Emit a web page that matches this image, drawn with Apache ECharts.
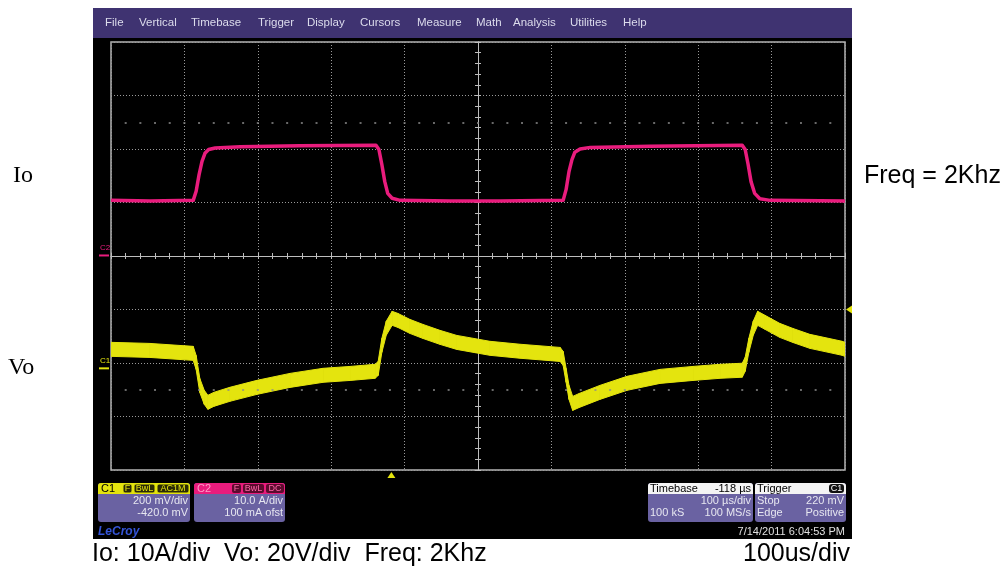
<!DOCTYPE html>
<html>
<head>
<meta charset="utf-8">
<script src="https://cdn.jsdelivr.net/npm/echarts@6/dist/echarts.min.js"></script>
<style>
html, body { margin: 0; padding: 0; background: #fff; }
#main { width: 1007px; height: 575px; }
</style>
</head>
<body>
<div id="main"></div>
<script>
// C2 trace: load current Io in A, time in us relative to the screen centre
var ioTime = [-500, -447, -388, -384, -380, -376, -372, -367, -358, -324, -243, -139, -135, -131, -127, -123, -117, -106, -38, 30,
              116, 120, 124, 128, 132, 139, 153, 234, 360, 364, 368, 372, 377, 384, 398, 500];
var ioAmps = [10.3, 10.2, 10.3, 12.0, 15.1, 17.6, 19.1, 19.8, 20.1, 20.3, 20.5, 20.6, 19.8, 17.0, 13.8, 11.6, 10.7, 10.3, 10.2, 10.2,
              10.3, 12.3, 15.7, 17.9, 19.3, 19.9, 20.2, 20.4, 20.6, 19.8, 17.0, 13.8, 11.6, 10.6, 10.3, 10.2];

// C1 trace: output voltage Vo as seen by the scope, in mV (200 mV/div), centre of the noise band
var voTime = [-500, -447, -388, -384, -379, -373, -368, -360, -338, -301, -256, -211, -174, -140, -136, -131, -125, -117, -109, -93,
              -75, -52, -29, 16, 57, 112, 116, 120, 124, 129, 138, 166, 203, 248, 293, 330, 360, 364, 369, 375,
              381, 391, 411, 429, 452, 496, 500];
var voMv = [71, 67, 56, 22, -64, -108, -127, -116, -97, -71, -45, -26, -19, -11, 0, 86, 150, 187, 179, 157,
            138, 116, 97, 75, 64, 52, 37, -26, -90, -131, -120, -90, -56, -30, -19, -11, -7, 15, 86, 150,
            187, 172, 142, 123, 101, 75, 71];

var menuItems = ['File', 'Vertical', 'Timebase', 'Trigger', 'Display', 'Cursors', 'Measure', 'Math', 'Analysis', 'Utilities', 'Help'];

// scope settings
var c1Scale = 200, c1Offset = -420;   // mV/div, mV
var c2Scale = 10, c2Offset = 0.1;     // A/div, A
var triggerTime = -118;               // us
var triggerLevel = 220;               // mV

var ioData = ioTime.map(function (t, i) { return [t, ioAmps[i]]; });
var voData = voTime.map(function (t, i) { return [t, voMv[i]]; });

var PINK = '#e91c7d';
var YELLOW = '#e4e40e';
var PANEL = '#6a62a2';
var TXT = '#e6e6f0';
var sFont = '11px "Liberation Sans", Arial, sans-serif';
var tagFont = '9px "Liberation Sans", Arial, sans-serif';
var bigFont = '25px "Liberation Sans", Arial, sans-serif';
var serifFont = '24px "Liberation Serif", "Times New Roman", serif';
var noiseHalf = 7; // px, half height of the noise band on C1

var myChart = echarts.init(document.getElementById('main'));

function txt(x, y, s, extra) {
    var st = { text: s, fill: TXT, font: sFont, verticalAlign: 'middle', textAlign: 'left' };
    for (var k in extra) st[k] = extra[k];
    return { type: 'text', x: x, y: y, z: 10, style: st, silent: true };
}
function box(x, y, w, h, fill, r, stroke) {
    return { type: 'rect', z: 9, shape: { x: x, y: y, width: w, height: h, r: r || 0 },
             style: { fill: fill, stroke: stroke || null, lineWidth: stroke ? 1 : 0 }, silent: true };
}

var menuX = [105, 139, 191, 258, 307, 360, 417, 476, 513, 570, 623];
var graphics = [
    { type: 'rect', z: -20, shape: { x: 93, y: 8, width: 759, height: 531 }, style: { fill: '#000' }, silent: true },
    { type: 'rect', z: -19, shape: { x: 93, y: 8, width: 759, height: 30 }, style: { fill: '#3f3371' }, silent: true }
];
menuItems.forEach(function (m, i) {
    graphics.push(txt(menuX[i], 23, m, { font: '11.5px "Liberation Sans", Arial, sans-serif', fill: '#dcdcec' }));
});

// outer labels
graphics.push(txt(13, 176, 'Io', { fill: '#000', font: serifFont }));
graphics.push(txt(8, 368, 'Vo', { fill: '#000', font: serifFont }));
graphics.push(txt(864, 176, 'Freq = 2Khz', { fill: '#000', font: bigFont }));
graphics.push(txt(92, 554, 'Io: 10A/div  Vo: 20V/div  Freq: 2Khz', { fill: '#000', font: bigFont }));
graphics.push(txt(850, 554, '100us/div', { fill: '#000', font: bigFont, textAlign: 'right' }));

// C1 descriptor
graphics.push(box(98, 483, 92, 39, PANEL, 3));
graphics.push(box(98, 483, 92, 11, YELLOW, [3, 3, 0, 0]));
graphics.push(txt(101, 488.5, 'C1', { fill: '#000' }));
graphics.push(box(123, 484, 9, 9, '#2b2a05', 2, YELLOW));
graphics.push(txt(127.5, 488.5, 'F', { fill: YELLOW, textAlign: 'center', font: tagFont }));
graphics.push(box(134, 484, 21, 9, '#2b2a05', 2, YELLOW));
graphics.push(txt(144.5, 488.5, 'BwL', { fill: YELLOW, textAlign: 'center', font: tagFont }));
graphics.push(box(157, 484, 32, 9, '#2b2a05', 2, YELLOW));
graphics.push(txt(173, 488.5, 'AC1M', { fill: YELLOW, textAlign: 'center', font: tagFont }));
graphics.push(txt(188, 501, c1Scale + ' mV/div', { textAlign: 'right' }));
graphics.push(txt(188, 513, c1Offset.toFixed(1) + ' mV', { textAlign: 'right' }));

// C2 descriptor
graphics.push(box(194, 483, 91, 39, PANEL, 3));
graphics.push(box(194, 483, 91, 11, PINK, [3, 3, 0, 0]));
graphics.push(txt(197, 488.5, 'C2', { fill: '#ff9cc8' }));
graphics.push(box(232, 484, 9, 9, '#5c0b2e', 2));
graphics.push(txt(236.5, 488.5, 'F', { fill: '#ff66a8', textAlign: 'center', font: tagFont }));
graphics.push(box(243, 484, 21, 9, '#5c0b2e', 2));
graphics.push(txt(253.5, 488.5, 'BwL', { fill: '#ff66a8', textAlign: 'center', font: tagFont }));
graphics.push(box(266, 484, 18, 9, '#5c0b2e', 2));
graphics.push(txt(275, 488.5, 'DC', { fill: '#ff66a8', textAlign: 'center', font: tagFont }));
graphics.push(txt(283, 501, c2Scale.toFixed(1) + ' A/div', { textAlign: 'right' }));
graphics.push(txt(283, 513, (c2Offset * 1000) + ' mA ofst', { textAlign: 'right' }));

// timebase descriptor
graphics.push(box(648, 483, 105, 39, PANEL, 3));
graphics.push(box(648, 483, 105, 11, '#f4f4f4', [3, 3, 0, 0]));
graphics.push(txt(650, 488.5, 'Timebase', { fill: '#000' }));
graphics.push(txt(751, 488.5, triggerTime + ' \u00b5s', { fill: '#000', textAlign: 'right' }));
graphics.push(txt(751, 501, '100 \u00b5s/div', { textAlign: 'right' }));
graphics.push(txt(650, 513, '100 kS'));
graphics.push(txt(751, 513, '100 MS/s', { textAlign: 'right' }));

// trigger descriptor
graphics.push(box(755, 483, 91, 39, PANEL, 3));
graphics.push(box(755, 483, 91, 11, '#f4f4f4', [3, 3, 0, 0]));
graphics.push(txt(757, 488.5, 'Trigger', { fill: '#000' }));
graphics.push(box(829, 484, 15, 9, '#111', 3));
graphics.push(txt(836.5, 488.5, 'C1', { fill: '#fff', textAlign: 'center', font: tagFont }));
graphics.push(txt(757, 501, 'Stop'));
graphics.push(txt(844, 501, triggerLevel + ' mV', { textAlign: 'right' }));
graphics.push(txt(757, 513, 'Edge'));
graphics.push(txt(844, 513, 'Positive', { textAlign: 'right' }));

graphics.push(txt(98, 532, 'LeCroy', { fill: '#3555d8', font: 'italic bold 12px "Liberation Sans", Arial, sans-serif' }));
graphics.push(txt(845, 532, '7/14/2011 6:04:53 PM', { textAlign: 'right', fill: '#e0e0e0' }));

var gridLine = { show: true, lineStyle: { color: '#9a9a9a', width: 1, type: [1, 2] } };
function centreAxis(pos, extra) {
    var a = {
        position: pos,
        axisLine: { show: true, onZero: true, onZeroAxisIndex: 0, lineStyle: { color: '#bdbdbd', width: 1 } },
        axisTick: { show: true, inside: false, length: 3, lineStyle: { color: '#bdbdbd' } },
        minorTick: { show: true, splitNumber: 5, length: 3, lineStyle: { color: '#bdbdbd' } },
        axisLabel: { show: false },
        splitLine: { show: false }
    };
    for (var k in extra) a[k] = extra[k];
    return a;
}

// noisy C1 trace drawn as a vertical band around each segment
function renderBand(params, api) {
    var i = params.dataIndex;
    if (i >= voData.length - 1) return null;
    var a = api.coord(voData[i]);
    var b = api.coord(voData[i + 1]);
    return {
        type: 'polygon',
        shape: { points: [[a[0], a[1] - noiseHalf], [b[0], b[1] - noiseHalf], [b[0], b[1] + noiseHalf], [a[0], a[1] + noiseHalf]] },
        style: { fill: YELLOW, stroke: YELLOW, lineWidth: 1 }
    };
}

var option = {
    animation: false,
    backgroundColor: '#fff',
    graphic: graphics,
    grid: { left: 111, top: 42, width: 734, height: 428, show: true, borderColor: '#b4b4b4', borderWidth: 1.5 },
    xAxis: [
        centreAxis('bottom', { type: 'value', min: -500, max: 500, interval: 100, splitLine: gridLine }),
        centreAxis('top', { type: 'value', min: -500, max: 500, interval: 100 })
    ],
    yAxis: [
        centreAxis('left', { type: 'value', min: -4, max: 4, interval: 1, splitLine: gridLine }),
        { type: 'value', show: false, min: -4 * c2Scale - c2Offset, max: 4 * c2Scale - c2Offset },
        { type: 'value', show: false, min: -4 * c1Scale - c1Offset, max: 4 * c1Scale - c1Offset },
        centreAxis('right', { type: 'value', min: -4, max: 4, interval: 1 })
    ],
    series: [
        {
            name: 'dots', type: 'line', data: [], xAxisIndex: 0, yAxisIndex: 0, silent: true,
            markLine: {
                symbol: 'none', silent: true, label: { show: false },
                lineStyle: { color: '#8c8c8c', width: 1.5, type: [2, 12.68], dashOffset: 1 },
                data: [{ yAxis: 2.5 }, { yAxis: -2.5 }]
            }
        },
        {
            name: 'Vo', type: 'custom', data: voData, yAxisIndex: 2, z: 3, silent: true,
            encode: { x: 0, y: 1 }, clip: true, renderItem: renderBand
        },
        {
            name: 'Io', type: 'line', data: ioData, yAxisIndex: 1, showSymbol: false, z: 4,
            lineStyle: { color: PINK, width: 3.5, join: 'round' }
        }
    ]
};
myChart.setOption(option);

// channel ground markers and trigger markers placed through the axes
var c2Zero = myChart.convertToPixel({ yAxisIndex: 1 }, 0);
var c1Zero = myChart.convertToPixel({ yAxisIndex: 2 }, 0);
var trigY = myChart.convertToPixel({ yAxisIndex: 2 }, triggerLevel);
var trigX = myChart.convertToPixel({ xAxisIndex: 0 }, triggerTime);
var marks = [
    txt(100, c2Zero - 8, 'C2', { fill: PINK, font: '8px "Liberation Sans", Arial, sans-serif' }),
    { type: 'rect', z: 10, shape: { x: 99, y: c2Zero - 1, width: 10, height: 2 }, style: { fill: PINK }, silent: true },
    txt(100, c1Zero - 8, 'C1', { fill: YELLOW, font: '8px "Liberation Sans", Arial, sans-serif' }),
    { type: 'rect', z: 10, shape: { x: 99, y: c1Zero - 1, width: 10, height: 2 }, style: { fill: YELLOW }, silent: true },
    { type: 'polygon', z: 10, shape: { points: [[846, trigY], [852, trigY - 4], [852, trigY + 4]] }, style: { fill: YELLOW }, silent: true },
    { type: 'polygon', z: 10, shape: { points: [[trigX, 472], [trigX - 4, 478], [trigX + 4, 478]] }, style: { fill: YELLOW }, silent: true }
];
myChart.setOption({ graphic: graphics.concat(marks) });
</script>
</body>
</html>
